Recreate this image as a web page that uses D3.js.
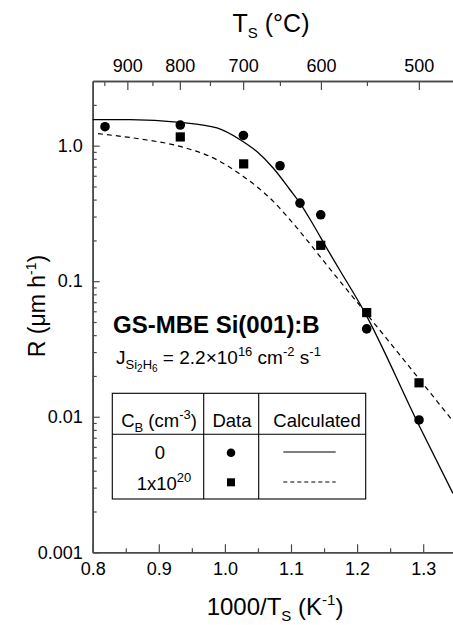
<!DOCTYPE html>
<html>
<head>
<meta charset="utf-8">
<script src="https://cdn.jsdelivr.net/npm/d3@7"></script>
<style>
  body { margin: 0; background: white; }
  text { font-family: "Liberation Sans", Arial, sans-serif; fill: #000; white-space: pre; }
</style>
</head>
<body>
<div id="chart"></div>
<script>
'use strict';

// measured points: [1000/Ts, R (um/h)]
const undopedData = [[0.8186, 1.38], [0.9325, 1.42], [1.028, 1.19], [1.0834, 0.711],
                     [1.1136, 0.377], [1.145, 0.309], [1.2145, 0.0445], [1.2937, 0.00947]];
const dopedData = [[0.9325, 1.16], [1.0284, 0.734], [1.145, 0.184], [1.2145, 0.0587],
                   [1.2937, 0.0178]];
// calculated curves
const undopedCalc = [[0.800, 1.556], [0.856, 1.556], [0.932, 1.486], [0.988, 1.351],
                     [1.023, 1.107], [1.048, 0.908], [1.073, 0.684], [1.0985, 0.473],
                     [1.1136, 0.377], [1.1337, 0.261], [1.154, 0.1755], [1.1741, 0.120],
                     [1.2094, 0.0615], [1.2926, 0.00885], [1.345, 0.00272]];
const dopedCalc = [[0.808, 1.226], [0.8716, 1.121], [0.932, 0.988], [0.9876, 0.788],
                   [1.0278, 0.593], [1.048, 0.500], [1.0732, 0.388], [1.0985, 0.284],
                   [1.1238, 0.202], [1.154, 0.132], [1.2094, 0.0615], [1.345, 0.0093]];

const xTicks = [0.8, 0.9, 1.0, 1.1, 1.2, 1.3];
const xMinorTicks = [0.85, 0.95, 1.05, 1.15, 1.25];
const yTicks = [0.001, 0.01, 0.1, 1];
const yTickLabels = ['0.001', '0.01', '0.1', '1.0'];
const tempTicks = [900, 800, 700, 600, 500];
const tempMinorTicks = [950, 850, 750, 650, 550];

const W = 453, H = 625;
const plotLeft = 92.7, plotTop = 81, plotBottom = 552.3;
const axisColor = '#4a4a4a';

const svg = d3.select('#chart').append('svg')
  .attr('width', W).attr('height', H);
svg.append('rect').attr('width', W).attr('height', H).attr('fill', 'white');

const x = d3.scaleLinear().domain([0.8, 1.35]).range([plotLeft, plotLeft + 661 * 0.55]);
const y = d3.scaleLog().domain([0.001, 3.0]).range([plotBottom, plotTop]);
const toInvT = t => 1000 / (t + 273.15);

// y minor ticks 2..9 per decade
const yMinor = [];
[0.001, 0.01, 0.1, 1].forEach(d => {
  for (let k = 2; k <= 9; k++) {
    if (d * k < 3.0) yMinor.push(d * k);
  }
});

function styleAxis(g) {
  g.select('.domain').attr('stroke', axisColor).attr('stroke-width', 1.6);
  g.selectAll('.tick line').attr('stroke', axisColor).attr('stroke-width', 1.2);
  g.selectAll('.tick text').attr('font-size', 18)
    .attr('font-family', '"Liberation Sans", Arial, sans-serif').attr('fill', '#000');
}

// bottom axis
svg.append('g').attr('transform', `translate(0,${plotBottom})`)
  .call(d3.axisBottom(x).tickValues(xMinorTicks).tickSize(-4).tickSizeOuter(0).tickFormat(''))
  .call(styleAxis);
svg.append('g').attr('transform', `translate(0,${plotBottom})`)
  .call(d3.axisBottom(x).tickValues(xTicks).tickSize(-8).tickSizeOuter(0)
    .tickPadding(10).tickFormat(d3.format('.1f')))
  .call(styleAxis);

// left axis
svg.append('g').attr('transform', `translate(${plotLeft},0)`)
  .call(d3.axisLeft(y).tickValues(yMinor).tickSize(-4).tickSizeOuter(0).tickFormat(''))
  .call(styleAxis);
svg.append('g').attr('transform', `translate(${plotLeft},0)`)
  .call(d3.axisLeft(y).tickValues(yTicks).tickSize(-7).tickSizeOuter(0)
    .tickPadding(10).tickFormat((d, i) => yTickLabels[i]))
  .call(styleAxis);

// top axis in deg C
svg.append('g').attr('transform', `translate(0,${plotTop})`)
  .call(d3.axisTop(x).tickValues(tempMinorTicks.map(toInvT)).tickSize(-5)
    .tickSizeOuter(0).tickFormat(''))
  .call(styleAxis);
svg.append('g').attr('transform', `translate(0,${plotTop})`)
  .call(d3.axisTop(x).tickValues(tempTicks.map(toInvT)).tickSize(-9).tickSizeOuter(0)
    .tickPadding(9).tickFormat((d, i) => tempTicks[i]))
  .call(styleAxis);

// text with sub/superscripts: parts = [text, shift, size, weight]
function rich(g, px, py, parts, anchor) {
  const t = g.append('text').attr('x', px).attr('y', py)
    .attr('text-anchor', anchor || 'start');
  let prev = 0;
  parts.forEach(p => {
    t.append('tspan').attr('dy', p[1] - prev).attr('font-size', p[2])
      .attr('font-weight', p[3] || 'normal').text(p[0]);
    prev = p[1];
  });
  return t;
}

rich(svg, 271, 32, [['T', 0, 25], ['S', 6, 15], [' (°C)', 0, 25]], 'middle');
rich(svg, 275, 615, [['1000/T', 0, 24], ['S', 6, 15], [' (K', 0, 24], ['-1', -10, 15], [')', 0, 24]], 'middle');
rich(svg.append('g').attr('transform', 'translate(45,306) rotate(-90)'), 0, 0,
  [['R (μm h', 0, 23], ['-1', -9, 14], [')', 0, 23]], 'middle');

// curves
const line = d3.line().x(d => x(d[0])).y(d => y(d[1])).curve(d3.curveMonotoneX);
svg.append('path').datum(undopedCalc).attr('d', line)
  .attr('fill', 'none').attr('stroke', '#000').attr('stroke-width', 1.3);
svg.append('path').datum(dopedCalc).attr('d', line)
  .attr('fill', 'none').attr('stroke', '#000').attr('stroke-width', 1.2)
  .attr('stroke-dasharray', '5,4');

// data markers
svg.append('g').selectAll('circle').data(undopedData).enter().append('circle')
  .attr('cx', d => x(d[0])).attr('cy', d => y(d[1])).attr('r', 4.8).attr('fill', '#000');
svg.append('g').selectAll('rect').data(dopedData).enter().append('rect')
  .attr('x', d => x(d[0]) - 4.6).attr('y', d => y(d[1]) - 4.6)
  .attr('width', 9.2).attr('height', 9.2).attr('fill', '#000');

// annotation
rich(svg, 113, 333, [['GS-MBE Si(001):B', 0, 24, 'bold']]);
rich(svg, 116, 364, [['J', 0, 19], ['Si', 5, 13], ['2', 8, 10], ['H', 5, 13], ['6', 8, 10],
  [' = 2.2×10', 0, 19], ['16', -8, 13], [' cm', 0, 19], ['-2', -8, 13],
  [' s', 0, 19], ['-1', -8, 13]]);

// legend table
const tbl = svg.append('g');
const tL = 112.3, tR = 365.7, tT = 393.3, tB = 499, c1 = 203.7, c2 = 258.7, hY = 434.3;
tbl.append('rect').attr('x', tL).attr('y', tT).attr('width', tR - tL).attr('height', tB - tT)
  .attr('fill', 'none').attr('stroke', '#000').attr('stroke-width', 1.1);
[c1, c2].forEach(cx => tbl.append('line').attr('x1', cx).attr('x2', cx)
  .attr('y1', tT).attr('y2', tB).attr('stroke', '#000').attr('stroke-width', 1.1));
tbl.append('line').attr('x1', tL).attr('x2', tR).attr('y1', hY).attr('y2', hY)
  .attr('stroke', '#000').attr('stroke-width', 1.1);

rich(tbl, 159, 426.7, [['C', 0, 18.5], ['B', 5, 13], [' (cm', 0, 18.5], ['-3', -8, 13], [')', 0, 18.5]], 'middle');
rich(tbl, 232, 426.7, [['Data', 0, 18.5]], 'middle');
rich(tbl, 317, 426.7, [['Calculated', 0, 18.5]], 'middle');
rich(tbl, 160, 459, [['0', 0, 18.5]], 'middle');
rich(tbl, 164, 490, [['1x10', 0, 18.5], ['20', -8, 13]], 'middle');

tbl.append('circle').attr('cx', 231).attr('cy', 452.7).attr('r', 4.3).attr('fill', '#000');
tbl.append('rect').attr('x', 227).attr('y', 478.3).attr('width', 8).attr('height', 8).attr('fill', '#000');
tbl.append('line').attr('x1', 283.3).attr('x2', 335.7).attr('y1', 452).attr('y2', 452)
  .attr('stroke', '#000').attr('stroke-width', 1.1);
tbl.append('line').attr('x1', 283.3).attr('x2', 335.7).attr('y1', 482).attr('y2', 482)
  .attr('stroke', '#000').attr('stroke-width', 1.1).attr('stroke-dasharray', '4,3');
</script>
</body>
</html>
